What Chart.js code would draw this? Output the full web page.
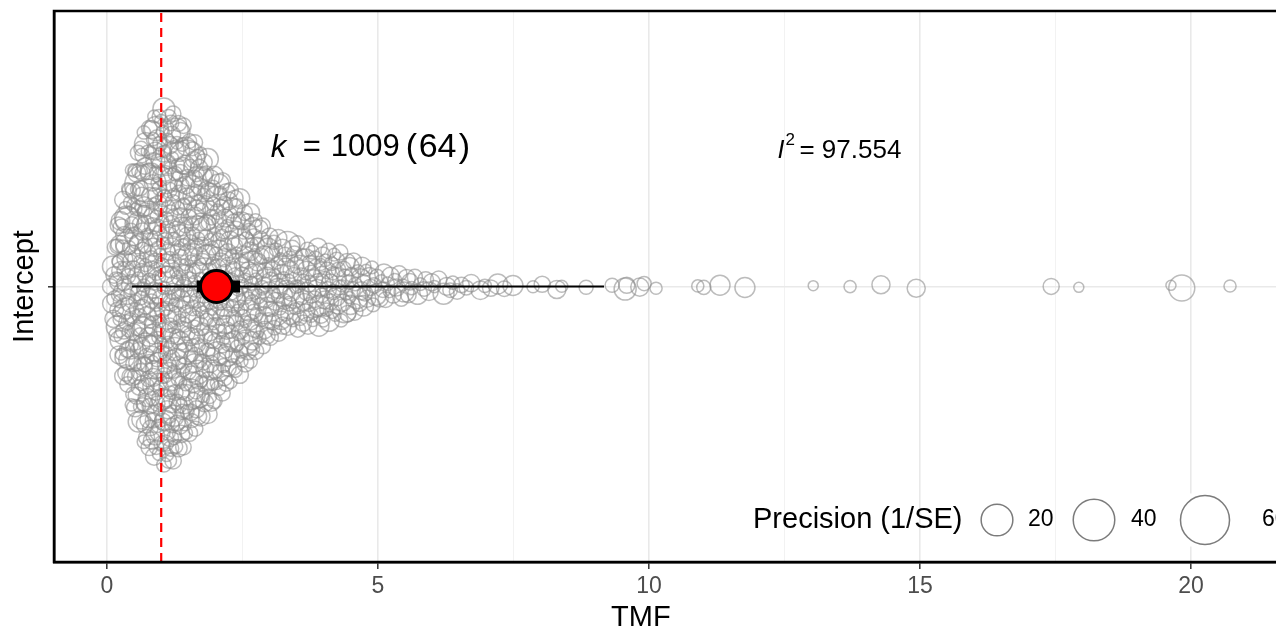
<!DOCTYPE html>
<html><head><meta charset="utf-8">
<script src="https://cdn.jsdelivr.net/npm/chart.js@4.4.1/dist/chart.umd.min.js"></script>
<style>html,body{margin:0;padding:0;background:#fff;overflow:hidden;width:1276px;height:633px;}#wrap{width:1276px;height:633px;overflow:hidden;position:relative;}canvas{display:block;}</style>
</head><body>
<div id="wrap"><canvas id="c" width="1290" height="633"></canvas></div>
<script>
// ---------------- data ----------------
const categories = ["Intercept"];
const xTicks = [0, 5, 10, 15, 20];
const xMinorTicks = [2.5, 7.5, 12.5, 17.5];
const legendPrecisions = [20, 40, 60];
const kEffects = 1009, kStudies = 64, i2Value = "97.554";
const meanEstimate = 2.02;
const ciBounds = [1.655, 2.454];
const piBounds = [0.455, 9.17];
const nullValue = 1;

// TMF of each effect size
const tmf = [
0.06,0.19,0.12,0.23,0.09,0.21,0.16,0.24,0.14,0.2,0.22,0.18,0.11,0.24,0.17,0.23,0.2,0.13,0.22,0.24,0.15,0.19,
0.31,0.47,0.26,0.38,0.44,0.29,0.35,0.49,0.41,0.27,0.36,0.45,0.33,0.48,0.28,0.4,0.43,0.3,0.37,0.46,
0.25,0.39,0.42,0.34,0.49,0.32,0.47,0.38,0.44,0.29,0.41,0.36,0.48,0.27,0.45,0.33,0.4,0.43,0.31,0.46,
0.35,0.49,0.39,0.26,0.42,0.47,0.37,0.44,0.3,0.48,0.34,0.45,0.41,0.38,
0.52,0.68,0.57,0.73,0.61,0.55,0.7,0.64,0.5,0.66,0.59,0.74,0.53,0.62,0.71,0.56,0.67,0.6,0.72,0.54,
0.65,0.58,0.69,0.51,0.63,0.74,0.57,0.7,0.61,0.66,0.53,0.72,0.59,0.68,0.55,0.64,0.71,0.52,0.67,0.62,
0.73,0.56,0.6,0.69,0.54,0.65,0.58,0.74,0.63,0.7,0.51,0.66,0.57,0.72,0.61,0.68,0.55,0.64,0.73,0.59,
0.67,0.53,0.71,0.62,0.56,0.69,0.6,0.74,0.65,0.58,0.72,0.63,0.7,0.66,
0.78,0.91,0.83,0.97,0.76,0.88,0.94,0.8,0.86,0.99,0.82,0.93,0.77,0.89,0.96,0.84,0.75,0.92,0.87,0.98,
0.79,0.85,0.95,0.81,0.9,0.97,0.78,0.88,0.83,0.94,0.76,0.91,0.86,0.99,0.8,0.93,0.84,0.89,0.77,0.96,
0.82,0.87,0.95,0.79,0.92,0.98,0.85,0.9,0.81,0.94,0.88,0.76,0.97,0.83,0.91,0.78,0.86,0.99,0.8,0.93,
0.84,0.89,0.96,0.77,0.92,0.87,0.82,0.95,0.79,0.9,0.98,0.85,0.94,0.81,0.88,0.97,0.83,0.91,0.76,0.86,
0.93,0.8,0.96,0.89,0.84,0.99,0.87,
1.02,1.17,1.08,1.23,1.05,1.13,1.2,1.01,1.11,1.24,1.07,1.15,1.03,1.19,1.1,1.22,1.06,1.14,1.18,1.0,
1.12,1.21,1.04,1.16,1.09,1.24,1.02,1.18,1.13,1.07,1.2,1.05,1.15,1.11,1.23,1.01,1.17,1.08,1.22,1.14,
1.03,1.19,1.1,1.06,1.21,1.16,1.12,1.04,1.24,1.09,1.18,1.02,1.13,1.2,1.07,1.15,1.23,1.05,1.11,1.17,
1.01,1.22,1.08,1.14,1.19,1.03,1.1,1.24,1.16,1.06,1.21,1.12,1.04,1.18,1.09,1.15,1.23,1.02,1.13,1.2,
1.07,1.17,1.11,1.05,1.22,1.14,1.0,1.19,1.08,1.16,1.1,
1.27,1.41,1.33,1.48,1.29,1.36,1.44,1.26,1.39,1.47,1.31,1.43,1.35,1.28,1.45,1.38,1.32,1.49,1.25,1.4,
1.34,1.46,1.3,1.42,1.37,1.27,1.44,1.33,1.48,1.39,1.29,1.36,1.47,1.31,1.41,1.26,1.43,1.35,1.49,1.38,
1.28,1.45,1.32,1.4,1.46,1.34,1.3,1.42,1.37,1.27,1.48,1.33,1.44,1.29,1.39,1.47,1.36,1.31,1.41,1.25,
1.43,1.35,1.28,1.45,1.38,1.32,1.49,1.4,1.34,1.46,1.3,1.42,1.37,1.26,1.44,1.33,1.48,1.39,1.29,1.36,
1.41,1.31,1.45,
1.52,1.67,1.58,1.73,1.55,1.62,1.7,1.51,1.64,1.74,1.57,1.69,1.53,1.66,1.6,1.72,1.56,1.63,1.68,1.5,
1.61,1.71,1.54,1.65,1.59,1.74,1.52,1.67,1.57,1.7,1.62,1.55,1.73,1.64,1.51,1.68,1.58,1.72,1.6,1.66,
1.53,1.69,1.63,1.56,1.71,1.59,1.65,1.54,1.74,1.61,1.67,1.52,1.7,1.57,1.64,1.73,1.55,1.62,1.68,1.58,
1.72,1.6,1.66,1.53,1.69,1.63,1.56,1.71,1.59,1.65,1.54,1.67,1.61,
1.77,1.92,1.83,1.98,1.79,1.87,1.95,1.76,1.89,1.99,1.81,1.94,1.85,1.78,1.91,1.96,1.82,1.88,1.75,1.93,
1.86,1.97,1.8,1.9,1.84,1.99,1.77,1.92,1.87,1.79,1.95,1.83,1.89,1.76,1.98,1.85,1.91,1.81,1.94,1.88,
1.78,1.96,1.84,1.9,1.82,1.97,1.86,1.93,1.8,1.87,1.99,1.77,1.92,1.83,1.95,1.79,1.89,1.85,1.94,1.81,
1.91,1.88,1.96,
2.02,2.17,2.08,2.23,2.05,2.13,2.2,2.01,2.11,2.24,2.07,2.15,2.03,2.19,2.1,2.22,2.06,2.14,2.18,2.0,
2.12,2.21,2.04,2.16,2.09,2.24,2.02,2.18,2.13,2.07,2.2,2.05,2.15,2.11,2.23,2.01,2.17,2.08,2.22,2.14,
2.03,2.19,2.1,2.06,2.21,2.16,2.12,2.04,2.24,2.09,2.18,2.13,2.07,2.2,
2.27,2.42,2.33,2.48,2.29,2.37,2.45,2.26,2.39,2.49,2.31,2.44,2.35,2.28,2.41,2.46,2.32,2.38,2.25,2.43,
2.36,2.47,2.3,2.4,2.34,2.49,2.27,2.42,2.37,2.29,2.45,2.33,2.39,2.26,2.48,2.35,2.41,2.31,2.44,2.38,
2.28,2.46,2.34,2.4,2.32,2.47,2.36,
2.52,2.68,2.57,2.73,2.55,2.63,2.7,2.51,2.65,2.74,2.58,2.69,2.54,2.66,2.61,2.72,2.56,2.64,2.71,2.5,
2.62,2.67,2.53,2.74,2.59,2.7,2.55,2.66,2.6,2.73,2.57,2.64,2.52,2.69,2.62,2.71,2.58,2.65,2.54,2.68,
2.77,2.93,2.83,2.98,2.8,2.88,2.95,2.76,2.9,2.99,2.82,2.94,2.86,2.78,2.92,2.97,2.84,2.89,2.75,2.96,
2.87,2.81,2.91,2.79,2.95,2.85,2.98,2.83,2.9,2.77,
3.03,3.18,3.09,3.24,3.05,3.14,3.21,3.01,3.12,3.23,3.07,3.16,3.04,3.2,3.11,3.22,3.06,3.15,3.19,3.0,
3.13,3.08,3.24,3.17,3.1,3.02,
3.28,3.44,3.33,3.49,3.3,3.38,3.46,3.26,3.41,3.36,3.48,3.31,3.43,3.27,3.39,3.47,3.34,3.42,3.29,3.45,3.35,3.4,
3.53,3.69,3.58,3.74,3.55,3.63,3.71,3.51,3.66,3.6,3.72,3.56,3.67,3.52,3.64,3.73,3.59,3.68,3.54,3.62,3.7,
3.78,3.93,3.84,3.98,3.8,3.88,3.96,3.76,3.91,3.86,3.99,3.82,3.94,3.77,3.89,3.97,3.83,3.92,3.79,3.87,3.95,
4.03,4.18,4.08,4.23,4.05,4.13,4.21,4.01,4.16,4.1,4.24,4.07,4.19,4.02,4.14,4.22,4.09,4.17,4.12,
4.28,4.43,4.33,4.48,4.3,4.38,4.46,4.26,4.41,4.36,4.49,4.32,4.44,4.27,4.39,4.47,4.35,
4.53,4.68,4.58,4.73,4.55,4.63,4.71,4.51,4.66,4.61,4.74,4.57,4.69,
4.78,4.93,4.84,4.98,4.8,4.89,4.96,4.76,4.91,4.86,
5.03,5.18,5.09,5.23,5.06,5.14,5.21,5.11,
5.28,5.43,5.34,5.48,5.31,5.39,5.46,
5.53,5.68,5.59,5.73,5.62,5.56,
5.78,5.94,5.85,5.99,5.88,
6.04,6.21,6.12,6.38,6.27,6.46,6.33,
6.54,6.72,6.63,6.89,6.97,
7.08,7.21,7.33,
7.49,7.86,8.03,8.3,8.39,8.84,9.32,9.56,9.59,9.83,9.91,10.13,10.9,11.01,11.31,11.77,
13.03,13.71,14.28,14.93,17.42,17.93,19.63,19.83,20.72
];

// Precision (1/SE) of each effect size (estimated from circle sizes)
const precision = [
2,1.5,3,0.8,4,2.5,1,5,2,0.5,3.5,1.2,6,2,1.5,3,0.8,2.5,4,1,2,7,1.5,3,0.5,2,4.5,1.2,2.5,3,
1,3.5,2,0.6,5,1.5,2.5,12,1,3,2,0.8,4,1.5,2,6,1.2,3,2.5,0.5,1.8,4,2,9,1.5,3,0.7,2.2,5,1,
2.5,1.2,3.5,2,0.5,4,1.5,2,8,1,3,2.5,0.8,5,1.5,2,3,1,6,2.2,0.6,3.5,1.8,2.5,4,1,2,15,1.5,3,
0.8,2,4,1.5,2.5,1,3,5.5,2,0.5,1.5,3.5,2,7,1.2,2.5,0.7,4,2,1,3,1.5,10,2,0.6,2.5,3.5,1.2,2,4.5,
1.5,3,2,0.5,4,2.5,1,6,1.8,3,2.2,0.8,3.5,1.5,2,5,1,2.5,40,1.2,3,2,0.6,4,1.5,2.5,8,1,3,2,
2,0.7,3.5,1.5,2.5,4,1,2,5,0.5,3,1.8,2.2,6,1.2,2.5,0.8,3.5,2,1.5,4.5,1,3,2,12,0.6,2.5,1.5,3,2,
3,1.2,2,4,0.5,2.5,1.5,3.5,7,1,2,0.8,4,2.5,1.5,5,2,1,3,0.6,2.2,4,1.5,2.5,9,1,3.5,2,0.7,1.8,
2.5,4,1,2,0.5,3,1.5,5,2,2.5,0.8,3.5,1.2,6,2,1,3,1.5,2.5,0.6,4,2,11,1.5,3,0.7,2,4.5,1,2.5,
1.5,2.5,0.6,3,2,4,1,5.5,2.2,0.8,3,1.5,2,35,1,2.5,3.5,0.5,2,4,1.5,3,0.8,6,2,1.2,2.5,3,1,2,
3.5,1,2,0.7,4,2.5,1.5,3,8,1.2,2,0.5,3,1.8,2.5,5,1,2,0.8,4,1.5,3,2,0.6,7,2.5,1,3.5,2,1.5,
2,4,0.8,2.5,1.5,3,1,5,2,0.5,3.5,1.2,2.5,6,2,1,3,0.7,2,4.5,1.5,2.5,14,1,3,2,0.6,4,1.5,2.5,
1,3,2,0.5,4,1.5,2.5,7,1.2,3,2,0.8,3.5,1.5,2.2,5,1,2.5,0.6,4,2,1.5,3,10,0.7,2,3.5,1,2.5,1.8,
2.5,1,3.5,2,0.6,4,1.5,2,6,1,3,2.5,0.8,5,1.5,2,3,1.2,25,2.2,0.5,3.5,1.8,2.5,4,1,2,8,1.5,3,
0.7,2,4,1.5,2.5,1,3,5,2,0.5,1.5,3.5,2,7,1.2,2.5,0.8,4,2,1,3,1.5,9,2,0.6,2.5,3.5,1.2,2,4.5,
1.5,3,2,0.5,4,2.5,1,6,1.8,3,2.2,0.8,3.5,1.5,2,5,1,2.5,11,1.2,3,2,0.6,4,1.5,2.5,7,1,3,2,
2,0.8,3.5,1.5,2.5,4,1,2,5,0.5,3,1.8,2.2,6,1.2,2.5,0.7,3.5,2,1.5,4.5,1,3,2,18,0.6,2.5,1.5,3,2,
3,1.2,2,4,0.5,2.5,1.5,3.5,8,1,2,0.8,4,2.5,1.5,5,2,1,3,0.6,2.2,4,1.5,2.5,6,1,3.5,2,0.7,1.8,
2.5,4,1,2,0.5,3,1.5,5,2,2.5,0.8,3.5,1.2,6,2,1,3,1.5,2.5,0.6,4,2,10,1.5,3,0.7,2,4.5,1,2.5,
1.5,2.5,0.6,3,2,4,1,5.5,2.2,0.8,3,1.5,2,30,1,2.5,3.5,0.5,2,4,1.5,3,0.8,6,2,1.2,2.5,3,1,2,
3.5,1,2,0.7,4,2.5,1.5,3,7,1.2,2,0.5,3,1.8,2.5,5,1,2,0.8,4,1.5,3,2,0.6,9,2.5,1,3.5,2,1.5,
2,4,0.8,2.5,1.5,3,1,5,2,0.5,3.5,1.2,2.5,6,2,1,3,0.7,2,4.5,1.5,2.5,12,1,3,2,0.6,4,1.5,2.5,
1,3,2,0.5,4,1.5,2.5,8,1.2,3,2,0.8,3.5,1.5,2.2,5,1,2.5,0.6,4,2,1.5,3,7,0.7,2,3.5,1,2.5,1.8,
2.5,1.2,3.5,2,0.5,4,1.5,2,6,1,3,2.5,0.8,5,1.5,2,3,1,9,2.2,0.6,3.5,1.8,2.5,4,1,2,11,1.5,3,
0.8,2,4,1.5,2.5,1,3,5.5,2,0.5,1.5,3.5,2,7,1.2,2.5,0.7,4,2,1,3,1.5,6,2,0.6,2.5,3.5,1.2,2,4.5,
1.5,3,2,0.5,4,2.5,1,6,1.8,3,2.2,0.8,3.5,1.5,2,5,1,2.5,8,1.2,3,2,0.6,4,1.5,2.5,10,1,3,2,
2,0.7,3.5,1.5,2.5,4,1,2,5,0.5,3,1.8,2.2,6,1.2,2.5,0.8,3.5,2,1.5,4.5,1,3,2,7,0.6,2.5,1.5,3,2,
3,1.2,2,4,0.5,2.5,1.5,3.5,6,1,2,0.8,4,2.5,1.5,5,2,1,3,0.6,2.2,4,1.5,2.5,8,1,3.5,2,0.7,1.8,
2.5,4,1,2,0.5,3,1.5,5,2,2.5,0.8,3.5,1.2,6,2,1,3,1.5,2.5,0.6,4,2,9,1.5,3,0.7,2,4.5,1,2.5,
1.5,2.5,0.6,3,2,4,1,5.5,2.2,0.8,3,1.5,2,7,1,2.5,3.5,0.5,2,4,1.5,3,0.8,6,2,1.2,2.5,3,1,2,
3.5,1,2,0.7,4,2.5,1.5,3,5,1.2,2,0.5,3,1.8,2.5,5,1,2,0.8,4,1.5,3,2,0.6,6,2.5,1,3.5,2,1.5,
2,3,1.5,4,1,2.5,5,2,
5.1,0.6,2.3,3.6,0.6,1.3,1.3,7,2.3,3.6,1.3,0.6,0.6,1.3,5.1,5.1,
0.15,0.6,3.6,3.6,2.3,0.15,0.15,11.5,0.6
];

// ---------------- mapping / layout ----------------
const FONT = "'Liberation Sans', Arial, Helvetica, sans-serif";
const sizeOf = p => 4 + 2.65 * Math.sqrt(p);           // precision -> radius (px), area-like scale
const swarmHalfWidth = 0.655;                           // max jitter (y units) at the density peak
const bandwidth = 0.11;

function vdc(n) { let q = 0, bk = 0.5; while (n > 0) { q += (n % 2) * bk; n = Math.floor(n / 2); bk /= 2; } return q; }
const order = tmf.map((v, i) => i).sort((a, b) => tmf[a] - tmf[b] || a - b);
const rank = new Array(tmf.length);
order.forEach((idx, r) => { rank[idx] = r; });
const dens = tmf.map(xi => { let s = 0; for (const xj of tmf) { const u = (xi - xj) / bandwidth; s += Math.exp(-0.5 * u * u); } return s; });
const maxDens = Math.max(...dens);
const swarm = tmf.map((v, i) => ({
  x: v,
  y: (vdc(rank[i] + 1) - 0.5) * 2 * (dens[i] / maxDens) * swarmHalfWidth,
  r: sizeOf(precision[i])
}));

const pxPerUnit = 54.2;
const xMin = -53 / pxPerUnit;
const xMax = xMin + 1229 / pxPerUnit;

const decorations = {
  id: 'decorations',
  afterDatasetsDraw(chart) {
    const { ctx, chartArea: a, scales: { x, y } } = chart;
    ctx.save();
    ctx.fillStyle = '#000';
    ctx.textBaseline = 'middle';
    ctx.textAlign = 'left';
    // k annotation
    const kx = x.getPixelForValue(3.02), ky = y.getPixelForValue(0.503);
    ctx.font = `italic 31px ${FONT}`; ctx.fillText('k', kx, ky);
    ctx.font = `31px ${FONT}`;
    ctx.fillText('=', kx + 32, ky);
    ctx.fillText(String(kEffects), kx + 60, ky);
    ctx.font = `34px ${FONT}`;
    ctx.fillText('(', kx + 135, ky);
    ctx.fillText(String(kStudies), kx + 148, ky);
    ctx.fillText(')', kx + 188, ky);
    // I^2 annotation
    const ix = x.getPixelForValue(12.37), iy = y.getPixelForValue(0.493);
    ctx.font = `italic 25px ${FONT}`; ctx.fillText('I', ix, iy);
    ctx.font = `17px ${FONT}`; ctx.fillText('2', ix + 8, iy - 10);
    ctx.font = `26px ${FONT}`; ctx.fillText('= ' + i2Value, ix + 22, iy);
    // legend
    const ly = a.bottom - 42;
    ctx.font = `29px ${FONT}`;
    ctx.fillText('Precision (1/SE)', 753, ly);
    const cx = [997, 1094, 1205], lx = [1028, 1131, 1262];
    legendPrecisions.forEach((p, i) => {
      const r = sizeOf(p);
      ctx.fillStyle = '#fff';
      ctx.fillRect(cx[i] - r - 2, ly - r - 2, 2 * r + 4, 2 * r + 4);
      ctx.beginPath(); ctx.arc(cx[i], ly, r, 0, Math.PI * 2);
      ctx.strokeStyle = 'rgba(100,100,100,0.85)'; ctx.lineWidth = 1.5; ctx.stroke();
      ctx.fillStyle = '#000'; ctx.font = `23px ${FONT}`;
      ctx.fillText(String(p), lx[i], ly);
    });
    ctx.restore();
  },
  afterDraw(chart) {
    const { ctx, chartArea: a, scales: { x } } = chart;
    ctx.save();
    ctx.strokeStyle = '#000'; ctx.lineWidth = 2.5;
    ctx.strokeRect(a.left, a.top, a.right - a.left, a.bottom - a.top);
    ctx.fillStyle = '#000'; ctx.font = `29px ${FONT}`;
    ctx.textAlign = 'center'; ctx.textBaseline = 'middle';
    ctx.fillText('TMF', x.getPixelForValue(9.85), 618);
    ctx.restore();
  }
};

const isMajor = v => xTicks.includes(v);

new Chart(document.getElementById('c'), {
  type: 'bubble',
  data: {
    datasets: [
      { label: 'Mean', type: 'bubble', data: [{ x: meanEstimate, y: 0, r: 16 }], backgroundColor: '#ff0000', borderColor: '#000', borderWidth: 3, order: 1 },
      { label: 'CI', type: 'line', data: [{ x: ciBounds[0], y: 0 }, { x: ciBounds[1], y: 0 }], borderColor: '#000', borderWidth: 12, borderCapStyle: 'butt', pointRadius: 0, order: 2 },
      { label: 'PI', type: 'line', data: [{ x: piBounds[0], y: 0 }, { x: piBounds[1], y: 0 }], borderColor: '#000', borderWidth: 2, pointRadius: 0, order: 3 },
      { label: 'Null', type: 'line', data: [{ x: nullValue, y: -1 }, { x: nullValue, y: 1 }], borderColor: '#ff0000', borderWidth: 2.2, borderDash: [9, 6], pointRadius: 0, order: 4 },
      { label: 'Effects', type: 'bubble', data: swarm, backgroundColor: 'rgba(0,0,0,0)', borderColor: 'rgba(140,140,140,0.58)', borderWidth: 1.5, order: 5 }
    ]
  },
  options: {
    responsive: false,
    animation: false,
    devicePixelRatio: 1,
    events: [],
    layout: { autoPadding: false, padding: { left: 0, right: 7, top: 11, bottom: 0 } },
    plugins: { legend: { display: false }, tooltip: { enabled: false } },
    scales: {
      x: {
        type: 'linear', position: 'bottom', min: xMin, max: xMax,
        afterBuildTicks: s => { s.ticks = [...xTicks, ...xMinorTicks].sort((a, b) => a - b).map(v => ({ value: v })); },
        afterFit: s => { s.height = 71; },
        grid: {
          color: c => isMajor(c.tick && c.tick.value) ? '#e9e9e9' : '#f2f2f2',
          lineWidth: c => isMajor(c.tick && c.tick.value) ? 1.6 : 1,
          drawTicks: true, tickLength: 7, tickWidth: 1.5,
          tickColor: c => isMajor(c.tick && c.tick.value) ? '#333' : 'rgba(0,0,0,0)'
        },
        border: { display: true, color: '#000', width: 2.5 },
        ticks: { callback: v => isMajor(v) ? String(v) : '', color: '#4d4d4d', font: { family: FONT, size: 23 }, padding: 4, maxRotation: 0, autoSkip: false },
        title: { display: false }
      },
      y: {
        type: 'linear', position: 'left', min: -1, max: 1,
        afterBuildTicks: s => { s.ticks = [{ value: 0 }]; },
        afterFit: s => { s.width = 54; },
        grid: { color: '#e9e9e9', lineWidth: 1.6, drawTicks: true, tickLength: 6, tickWidth: 1.5, tickColor: '#333' },
        border: { display: true, color: '#000', width: 2.5 },
        ticks: { callback: () => '', font: { family: FONT, size: 10 } },
        title: { display: true, text: categories[0], color: '#000', font: { family: FONT, size: 29, lineHeight: 1 }, padding: { top: 10, bottom: 0 } }
      }
    }
  },
  plugins: [decorations]
});
</script>
</body></html>
